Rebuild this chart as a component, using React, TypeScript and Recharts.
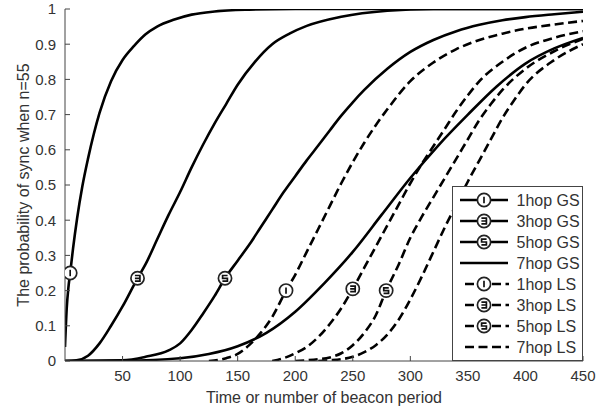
import { LineChart, Line, XAxis, YAxis, Legend, Label } from "recharts";

// beacon periods / probability pairs
const hop1GsX = [0, 1.5, 3, 4.5, 7, 10.5, 15, 20, 25, 30, 40, 50, 60, 70, 80, 95, 110, 130, 160, 200, 300, 450];
const hop1GsY = [0.04, 0.15, 0.21, 0.25, 0.32, 0.405, 0.495, 0.575, 0.645, 0.705, 0.795, 0.855, 0.895, 0.928, 0.95, 0.97, 0.984, 0.993, 0.998, 1, 1, 1];

const hop3GsX = [0, 10, 20, 30, 40, 50, 63, 70, 80, 90, 100, 110, 120, 130, 140, 150, 165, 180, 195, 210, 240, 280, 320, 450];
const hop3GsY = [0, 0.002, 0.015, 0.05, 0.1, 0.155, 0.235, 0.275, 0.345, 0.415, 0.48, 0.55, 0.615, 0.675, 0.73, 0.785, 0.85, 0.9, 0.93, 0.952, 0.978, 0.995, 1, 1];

const hop5GsX = [0, 50, 70, 90, 100, 110, 120, 130, 139, 150, 160, 170, 180, 190, 200, 210, 220, 230, 240, 250, 260, 280, 300, 320, 340, 360, 380, 400, 425, 450];
const hop5GsY = [0, 0.002, 0.012, 0.03, 0.05, 0.088, 0.135, 0.185, 0.235, 0.285, 0.33, 0.38, 0.43, 0.48, 0.525, 0.57, 0.612, 0.655, 0.697, 0.735, 0.77, 0.83, 0.878, 0.912, 0.937, 0.955, 0.968, 0.977, 0.985, 0.992];

const hop7GsX = [0, 50, 100, 125, 150, 175, 200, 225, 250, 275, 300, 325, 350, 375, 400, 425, 450];
const hop7GsY = [0, 0.001, 0.008, 0.02, 0.042, 0.08, 0.14, 0.22, 0.31, 0.415, 0.52, 0.615, 0.7, 0.78, 0.845, 0.888, 0.918];

const hop1LsX = [125, 140, 150, 160, 170, 180, 192, 200, 210, 220, 230, 240, 250, 260, 270, 280, 300, 320, 340, 360, 380, 400, 425, 450];
const hop1LsY = [0, 0.008, 0.02, 0.045, 0.08, 0.125, 0.2, 0.245, 0.31, 0.375, 0.44, 0.505, 0.565, 0.62, 0.67, 0.715, 0.795, 0.848, 0.886, 0.912, 0.93, 0.944, 0.956, 0.966];

const hop3LsX = [180, 190, 200, 210, 220, 230, 240, 250, 260, 270, 280, 290, 300, 310, 320, 330, 340, 350, 360, 380, 400, 425, 450];
const hop3LsY = [0, 0.008, 0.022, 0.04, 0.068, 0.105, 0.15, 0.205, 0.265, 0.325, 0.385, 0.445, 0.505, 0.56, 0.61, 0.66, 0.71, 0.755, 0.795, 0.85, 0.89, 0.918, 0.937];

const hop5LsX = [200, 210, 220, 230, 240, 250, 260, 270, 279, 290, 300, 310, 320, 330, 340, 350, 360, 370, 380, 400, 425, 450];
const hop5LsY = [0, 0.002, 0.005, 0.01, 0.022, 0.045, 0.08, 0.13, 0.2, 0.275, 0.35, 0.41, 0.465, 0.52, 0.575, 0.63, 0.685, 0.73, 0.77, 0.83, 0.88, 0.915];

const hop7LsX = [220, 230, 240, 250, 260, 270, 280, 290, 300, 310, 320, 330, 340, 350, 360, 370, 380, 390, 400, 425, 450];
const hop7LsY = [0, 0.002, 0.005, 0.012, 0.025, 0.045, 0.075, 0.118, 0.175, 0.24, 0.31, 0.38, 0.445, 0.51, 0.57, 0.63, 0.69, 0.74, 0.785, 0.855, 0.9];

const xTicks = [50, 100, 150, 200, 250, 300, 350, 400, 450];
const yTicks = [0, 0.1, 0.2, 0.3, 0.4, 0.5, 0.6, 0.7, 0.8, 0.9, 1];

const seriesNames = ["1hop GS", "3hop GS", "5hop GS", "7hop GS", "1hop LS", "3hop LS", "5hop LS", "7hop LS"];
const seriesGlyphs = ["1", "3", "5", "", "1", "3", "5", ""];
const markerIndex = [3, 6, 8, -1, 6, 7, 8, -1];

const zip = (xs: number[], ys: number[]) => xs.map((x, i) => ({ x, y: ys[i] }));

const series = [
  zip(hop1GsX, hop1GsY),
  zip(hop3GsX, hop3GsY),
  zip(hop5GsX, hop5GsY),
  zip(hop7GsX, hop7GsY),
  zip(hop1LsX, hop1LsY),
  zip(hop3LsX, hop3LsY),
  zip(hop5LsX, hop5LsY),
  zip(hop7LsX, hop7LsY),
].map((data, i) => ({
  name: seriesNames[i],
  data,
  glyph: seriesGlyphs[i],
  mark: markerIndex[i],
  dashed: i >= 4,
}));

const FONT = "'Liberation Sans', Arial, sans-serif";
const DASH = "9 4.5";

function glyphPath(g: string, cx: number, cy: number) {
  if (g === "1") return `M${cx},${cy - 3.2} V${cy + 3.2}`;
  if (g === "3")
    return `M${cx - 2.6},${cy - 2.8} H${cx + 2.4} V${cy + 2.8} H${cx - 2.6} M${cx - 2.6},${cy} H${cx + 2.4}`;
  return `M${cx + 2.6},${cy - 2.8} H${cx - 2.4} V${cy} H${cx + 2.4} V${cy + 2.8} H${cx - 2.6}`;
}

function HopMarker({ cx, cy, glyph }: { cx: number; cy: number; glyph: string }) {
  return (
    <g>
      <circle cx={cx} cy={cy} r={6.6} fill="#fff" stroke="#222" strokeWidth={1.7} />
      <path d={glyphPath(glyph, cx, cy)} stroke="#111" strokeWidth={1.7} fill="none" />
    </g>
  );
}

function renderLegend() {
  return (
    <svg width={131} height={175} style={{ display: "block" }}>
      <rect x={0.5} y={0.5} width={130} height={174} fill="#fff" stroke="#444" />
      {series.map((s, i) => {
        const y = 14 + i * 21;
        return (
          <g key={s.name}>
            <line
              x1={s.dashed ? 13 : 8}
              x2={s.dashed ? 57 : 56}
              y1={y}
              y2={y}
              stroke="#000"
              strokeWidth={2.6}
              strokeDasharray={s.dashed ? DASH : undefined}
            />
            {s.glyph && <HopMarker cx={32} cy={y} glyph={s.glyph} />}
            <text x={64.5} y={y} dy="0.36em" fontSize={16} fill="#333" fontFamily={FONT}>
              {s.name}
            </text>
          </g>
        );
      })}
    </svg>
  );
}

function XTitle(props: any) {
  const vb = props.viewBox;
  return (
    <text x={vb.x + vb.width / 2} y={vb.y + 42} textAnchor="middle" fontSize={16} fill="#333" fontFamily={FONT}>
      Time or number of beacon period
    </text>
  );
}

function YTitle(props: any) {
  const vb = props.viewBox;
  const cx = 23;
  const cy = vb.y + vb.height / 2;
  return (
    <text
      x={cx}
      y={cy}
      transform={`rotate(-90 ${cx} ${cy})`}
      textAnchor="middle"
      dy="0.36em"
      fontSize={16}
      fill="#333"
      fontFamily={FONT}
    >
      The probability of sync when n=55
    </text>
  );
}

export default function App() {
  return (
    <div style={{ position: "absolute", left: 0, top: 0, width: 597, height: 410, background: "#fff", fontFamily: FONT }}>
      <LineChart width={597} height={410} margin={{ top: 9, right: 14, bottom: 0, left: 0 }}>
        <XAxis
          dataKey="x"
          type="number"
          domain={[0, 450]}
          ticks={xTicks}
          height={49}
          tickSize={-5}
          tickMargin={14}
          stroke="#444"
          tick={{ fill: "#333", fontSize: 15 }}
          allowDataOverflow
          allowDuplicatedCategory={false}
        >
          <Label content={XTitle} />
        </XAxis>
        <XAxis
          xAxisId="top"
          orientation="top"
          type="number"
          domain={[0, 450]}
          ticks={xTicks}
          height={0}
          tickSize={-5}
          tick={false}
          stroke="#444"
        />
        <YAxis
          type="number"
          domain={[0, 1]}
          ticks={yTicks}
          width={65}
          tickSize={-5}
          tickMargin={14}
          stroke="#444"
          tick={{ fill: "#333", fontSize: 15 }}
          allowDataOverflow
        >
          <Label content={YTitle} />
        </YAxis>
        <YAxis
          yAxisId="right"
          orientation="right"
          type="number"
          domain={[0, 1]}
          ticks={yTicks}
          width={0}
          tickSize={-5}
          tick={false}
          stroke="#444"
        />
        {series.map((s) => (
          <Line
            key={s.name}
            data={s.data}
            dataKey="y"
            name={s.name}
            type="monotone"
            stroke="#000"
            strokeWidth={2.6}
            strokeDasharray={s.dashed ? DASH : undefined}
            isAnimationActive={false}
            activeDot={false}
            dot={(p: any) =>
              p.index === s.mark ? (
                <HopMarker key={`m-${s.name}`} cx={p.cx} cy={p.cy} glyph={s.glyph} />
              ) : (
                <g key={`d-${s.name}-${p.index}`} />
              )
            }
          />
        ))}
        <Legend
          layout="vertical"
          align="center"
          verticalAlign="middle"
          content={renderLegend}
          wrapperStyle={{ left: 452, top: 186, width: 131, height: 175 }}
        />
      </LineChart>
    </div>
  );
}
